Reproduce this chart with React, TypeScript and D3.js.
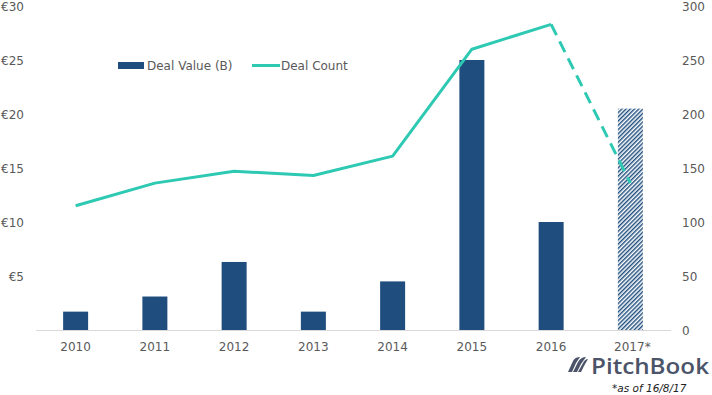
import * as d3 from "d3";
import React, { useRef, useEffect } from "react";

const years = ["2010", "2011", "2012", "2013", "2014", "2015", "2016", "2017*"];
const dealValue = [1.7, 3.1, 6.3, 1.7, 4.5, 25, 10, 20.5];
const dealCount = [115, 136, 147, 143, 161, 260, 283, 136];
const leftTicks = [5, 10, 15, 20, 25, 30];
const rightTicks = [0, 50, 100, 150, 200, 250, 300];

const W = 712;
const H = 395;
const FONT = "Verdana, 'DejaVu Sans', sans-serif";
const BLUE = "#1f4e7e";
const TEAL = "#2ec9b3";
const GREY_TEXT = "#595959";
const LOGO = "#4b5468";

const App = () => {
  const ref = useRef(null);

  useEffect(() => {
    const svg = d3.select(ref.current);
    svg.selectAll("*").remove();

    const left = 36;
    const right = 670;
    const top = 6;
    const bottom = 330;

    const xc = d3.scalePoint().domain(years).range([left, right]).padding(0.5);
    const yL = d3.scaleLinear().domain([0, 30]).range([bottom, top]);
    const yR = d3.scaleLinear().domain([0, 300]).range([bottom, top]);

    const defs = svg.append("defs");
    const pat = defs
      .append("pattern")
      .attr("id", "hatch")
      .attr("patternUnits", "userSpaceOnUse")
      .attr("width", 3)
      .attr("height", 3)
      .attr("patternTransform", "rotate(45)");
    pat.append("rect").attr("width", 3).attr("height", 3).attr("fill", "#fff");
    pat.append("line").attr("x1", 0.7).attr("y1", 0).attr("x2", 0.7).attr("y2", 3)
      .attr("stroke", BLUE).attr("stroke-width", 1.5);

    // baseline
    svg.append("line")
      .attr("x1", left).attr("x2", right + 1)
      .attr("y1", bottom + 0.5).attr("y2", bottom + 0.5)
      .attr("stroke", "#d9d9d9").attr("stroke-width", 1);

    // bars
    svg.append("g").selectAll("rect").data(dealValue).enter().append("rect")
      .attr("x", (d, i) => xc(years[i]) - 12.5)
      .attr("width", 25)
      .attr("y", (d) => yL(d))
      .attr("height", (d) => bottom - yL(d))
      .attr("fill", (d, i) => (i === years.length - 1 ? "url(#hatch)" : BLUE));

    // line: solid up to 2016, dashed to 2017
    const line = d3.line().x((d) => xc(years[d[0]])).y((d) => yR(d[1]));
    const pts = dealCount.map((v, i) => [i, v]);
    svg.append("path")
      .attr("d", line(pts.slice(0, 7)))
      .attr("fill", "none").attr("stroke", TEAL).attr("stroke-width", 3)
      .attr("stroke-linejoin", "round");
    svg.append("path")
      .attr("d", line(pts.slice(6)))
      .attr("fill", "none").attr("stroke", TEAL).attr("stroke-width", 3)
      .attr("stroke-dasharray", "12,7");

    // left axis labels
    svg.append("g").selectAll("text").data(leftTicks).enter().append("text")
      .attr("x", 24).attr("y", (d) => yL(d) + 4.5)
      .attr("text-anchor", "end")
      .attr("font-family", FONT).attr("font-size", 12).attr("fill", GREY_TEXT)
      .text((d) => "€" + d);

    // right axis labels
    svg.append("g").selectAll("text").data(rightTicks).enter().append("text")
      .attr("x", 682).attr("y", (d) => yR(d) + 4.5)
      .attr("font-family", FONT).attr("font-size", 12).attr("fill", GREY_TEXT)
      .text((d) => d);

    // x labels
    svg.append("g").selectAll("text").data(years).enter().append("text")
      .attr("x", (d) => xc(d) + (d.endsWith("*") ? 2 : 0)).attr("y", 351)
      .attr("text-anchor", "middle")
      .attr("font-family", FONT).attr("font-size", 12).attr("fill", GREY_TEXT)
      .text((d) => d);

    // legend
    const lg = svg.append("g").attr("font-family", FONT).attr("font-size", 12).attr("fill", GREY_TEXT);
    lg.append("rect").attr("x", 118).attr("y", 62).attr("width", 26).attr("height", 7).attr("fill", BLUE);
    lg.append("text").attr("x", 147).attr("y", 70).text("Deal Value (B)");
    lg.append("line").attr("x1", 252).attr("x2", 280).attr("y1", 65.5).attr("y2", 65.5)
      .attr("stroke", TEAL).attr("stroke-width", 3);
    lg.append("text").attr("x", 281).attr("y", 70).text("Deal Count");

    // PitchBook logo
    const logo = svg.append("g").attr("fill", LOGO);
    logo.append("path")
      .attr("d", "M568,372 L573,361 Q575,357 580,357 L576,363 L572,372 Z");
    logo.append("path")
      .attr("d", "M573,372 L578,362 Q581,357 586,357 L581,364 L577,372 Z");
    logo.append("path")
      .attr("d", "M578,372 L583,363 Q585,359 588,359 L584,366 L581,372 Z");
    logo.append("text")
      .attr("x", 591).attr("y", 374)
      .attr("font-family", "'Open Sans', 'Noto Sans', sans-serif").attr("font-weight", 600)
      .attr("font-size", 22).attr("textLength", 118).attr("lengthAdjust", "spacingAndGlyphs")
      .text("PitchBook");
    svg.append("text")
      .attr("x", 612).attr("y", 392)
      .attr("font-family", FONT).attr("font-style", "italic")
      .attr("font-size", 10.5).attr("fill", "#222")
      .text("*as of 16/8/17");
  }, []);

  return (
    <svg ref={ref} width={W} height={H} style={{ position: "absolute", left: 0, top: 0, background: "#fff" }} />
  );
};

export default App;
